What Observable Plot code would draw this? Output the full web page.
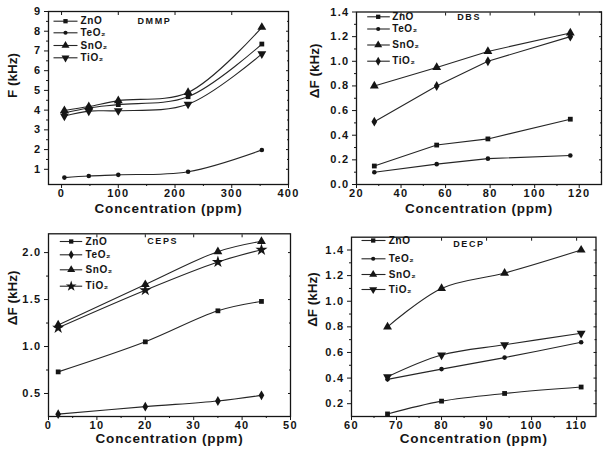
<!DOCTYPE html>
<html><head><meta charset="utf-8">
<script src="https://cdn.jsdelivr.net/npm/d3@7"></script>
<script src="https://cdn.jsdelivr.net/npm/@observablehq/plot@0.6"></script>
<style>
body{margin:0;background:#fff}
#grid{display:grid;grid-template-columns:302px 302px;width:604px}
#grid svg{display:block}
g[aria-label="x-axis tick label"] text, g[aria-label="y-axis tick label"] text{letter-spacing:1.3px}
</style>
</head><body><div id="grid"></div>
<script>
// ---- data ----
const seriesNames = ["ZnO", "TeO₂", "SnO₂", "TiO₂"];

const dmmpConc = [5, 48, 100, 223, 353];
const dmmpZnO  = [3.86, 4.11, 4.28, 4.68, 7.35];
const dmmpTeO2 = [0.58, 0.66, 0.72, 0.88, 1.98];
const dmmpSnO2 = [3.98, 4.18, 4.48, 4.90, 8.20];
const dmmpTiO2 = [3.70, 3.95, 3.97, 4.30, 6.85];

const dbsConc = [28, 56, 79, 116];
const dbsZnO  = [0.15, 0.32, 0.37, 0.53];
const dbsTeO2 = [0.10, 0.165, 0.21, 0.235];
const dbsSnO2 = [0.80, 0.95, 1.08, 1.23];
const dbsTiO2 = [0.51, 0.80, 1.00, 1.20];

const cepsConc = [2, 20, 35, 44];
const cepsZnO  = [0.73, 1.05, 1.38, 1.48];
const cepsTeO2 = [0.28, 0.36, 0.42, 0.48];
const cepsSnO2 = [1.23, 1.66, 2.01, 2.12];
const cepsTiO2 = [1.20, 1.60, 1.90, 2.03];

const decpConc = [68, 80, 94, 111];
const decpZnO  = [0.12, 0.22, 0.28, 0.33];
const decpTeO2 = [0.39, 0.47, 0.56, 0.68];
const decpSnO2 = [0.80, 1.10, 1.22, 1.40];
const decpTiO2 = [0.41, 0.58, 0.66, 0.75];

const dmmpXTicks = [0, 100, 200, 300, 400];
const dmmpXMinor = [50, 150, 250, 350];
const dmmpYTicks = [1, 2, 3, 4, 5, 6, 7, 8, 9];
const dmmpYMinor = [1.5, 2.5, 3.5, 4.5, 5.5, 6.5, 7.5, 8.5];

const dbsXTicks = [20, 40, 60, 80, 100, 120];
const dbsXMinor = [30, 50, 70, 90, 110];
const dbsYTicks = [0, 0.2, 0.4, 0.6, 0.8, 1.0, 1.2, 1.4];
const dbsYMinor = [0.1, 0.3, 0.5, 0.7, 0.9, 1.1, 1.3];

const cepsXTicks = [0, 10, 20, 30, 40, 50];
const cepsXMinor = [5, 15, 25, 35, 45];
const cepsYTicks = [0.5, 1.0, 1.5, 2.0];
const cepsYMinor = [0.75, 1.25, 1.75];

const decpXTicks = [60, 70, 80, 90, 100, 110];
const decpXMinor = [65, 75, 85, 95, 105];
const decpYTicks = [0.2, 0.4, 0.6, 0.8, 1.0, 1.2, 1.4];
const decpYMinor = [0.3, 0.5, 0.7, 0.9, 1.1, 1.3];

// ---- symbols ----
const downTriangle = {draw(ctx, size) {
  const t = Math.sqrt(size / (3 * Math.sqrt(3)));
  ctx.moveTo(0, 2 * t); ctx.lineTo(-Math.sqrt(3) * t, -t); ctx.lineTo(Math.sqrt(3) * t, -t); ctx.closePath();
}};
const hLine = (x0, x1) => ({draw(ctx) { ctx.moveTo(x0, 0); ctx.lineTo(x1, 0); }});
const symR = {square: 2.7, circle: 2.3, triangle: 3.3, diamond: 3.0, star: 3.8};
function rOf(s) { return typeof s === "string" ? symR[s] : 3.3; }

const panels = [
  {title: "DMMP", conc: dmmpConc, values: [dmmpZnO, dmmpTeO2, dmmpSnO2, dmmpTiO2],
   symbols: ["square", "circle", "triangle", downTriangle], yLabel: "F (kHz)",
   xDomain: [-23, 400], yDomain: [0.23, 9], xTicks: dmmpXTicks, xMinor: dmmpXMinor,
   yTicks: dmmpYTicks, yMinor: dmmpYMinor, yFormat: "d", curve: "catmull-rom",
   height: 227, margin: {top: 11, right: 14, bottom: 43, left: 48},
   leg: {x0: 5, x1: 29, mx: 17, tx: 32, rows: [9.7, 21.3, 34, 46.3], titleX: 89, titleY: 9.7},
   yLabelDx: -35.5, xLabelDy: 28},
  {title: "DBS", conc: dbsConc, values: [dbsZnO, dbsTeO2, dbsSnO2, dbsTiO2],
   symbols: ["square", "circle", "triangle", "diamond"], yLabel: "ΔF (kHz)",
   xDomain: [20, 130], yDomain: [0, 1.4], xTicks: dbsXTicks, xMinor: dbsXMinor,
   yTicks: dbsYTicks, yMinor: dbsYMinor, yFormat: ".1f", curve: "linear",
   height: 227, margin: {top: 11.5, right: 3, bottom: 43, left: 54},
   leg: {x0: 10.7, x1: 33.3, mx: 21.7, tx: 35.7, rows: [4.8, 17, 33, 49.2], titleX: 100.7, titleY: 4.8},
   yLabelDx: -42, xLabelDy: 28},
  {title: "CEPS", conc: cepsConc, values: [cepsZnO, cepsTeO2, cepsSnO2, cepsTiO2],
   symbols: ["square", "diamond", "triangle", "star"], yLabel: "ΔF (kHz)",
   xDomain: [0, 50], yDomain: [0.255, 2.2], xTicks: cepsXTicks, xMinor: cepsXMinor,
   yTicks: cepsYTicks, yMinor: cepsYMinor, yFormat: ".1f", curve: "catmull-rom",
   height: 228, margin: {top: 6.3, right: 12, bottom: 39, left: 48},
   leg: {x0: 11.3, x1: 33.7, mx: 22.7, tx: 37, rows: [7.7, 21, 36, 52.4], titleX: 98.7, titleY: 7.7},
   yLabelDx: -36, xLabelDy: 26.8},
  {title: "DECP", conc: decpConc, values: [decpZnO, decpTeO2, decpSnO2, decpTiO2],
   symbols: ["square", "circle", "triangle", downTriangle], yLabel: "ΔF (kHz)",
   xDomain: [60, 114.3], yDomain: [0.1, 1.5], xTicks: decpXTicks, xMinor: decpXMinor,
   yTicks: decpYTicks, yMinor: decpYMinor, yFormat: ".1f", curve: "catmull-rom",
   height: 228, margin: {top: 9.7, right: 8.5, bottom: 39, left: 49},
   leg: {x0: 10, x1: 34, mx: 21.7, tx: 37.3, rows: [3.3, 21.6, 37.3, 52.3], titleX: 101.7, titleY: 7.3},
   yLabelDx: -38.7, xLabelDy: 26.5}
];

const grid = document.getElementById("grid");
const ink = "#151515";

for (const p of panels) {
  const rows = seriesNames.flatMap((name, k) => p.conc.map((c, i) => ({series: name, x: c, y: p.values[k][i]})));
  const blank = () => "";
  const marks = [
    Plot.axisX(p.xTicks, {tickSize: 4, tickPadding: 1, tickFormat: "d", label: null, stroke: ink, fill: ink}),
    Plot.axisX(p.xMinor, {tickSize: 2, tickFormat: blank, label: null, stroke: ink}),
    Plot.axisY(p.yTicks, {tickSize: 4, tickPadding: 3, tickFormat: p.yFormat, label: null, stroke: ink, fill: ink}),
    Plot.axisY(p.yMinor, {tickSize: 2, tickFormat: blank, label: null, stroke: ink}),
    Plot.axisY(p.yTicks, {anchor: "right", tickSize: 3, dx: -3, tickFormat: blank, label: null, stroke: ink}),
    Plot.axisY(p.yMinor, {anchor: "right", tickSize: 2, dx: -2, tickFormat: blank, label: null, stroke: ink}),
    Plot.axisX(p.xTicks, {anchor: "top", tickSize: 3, dy: 3, tickFormat: blank, label: null, stroke: ink}),
    Plot.frame({stroke: ink, strokeWidth: 1.3}),
    Plot.line(rows, {x: "x", y: "y", z: "series", curve: p.curve, stroke: "#262626", strokeWidth: 1.1}),
    ...seriesNames.map((name, k) => Plot.dot(rows.filter(d => d.series === name),
      {x: "x", y: "y", symbol: p.symbols[k], r: rOf(p.symbols[k]), fill: ink, stroke: "none"})),
    // legend
    ...seriesNames.flatMap((name, k) => [
      Plot.dot([name], {frameAnchor: "top-left", dx: 0, dy: p.leg.rows[k], symbol: hLine(p.leg.x0, p.leg.x1), r: 3, fill: "none", stroke: "#262626", strokeWidth: 1.1}),
      Plot.dot([name], {frameAnchor: "top-left", dx: p.leg.mx, dy: p.leg.rows[k], symbol: p.symbols[k], r: rOf(p.symbols[k]) * 0.9, fill: ink, stroke: "none"}),
      Plot.text([name], {frameAnchor: "top-left", dx: p.leg.tx, dy: p.leg.rows[k], text: d => d, textAnchor: "start", lineAnchor: "middle", fontSize: 10, fontWeight: "bold", fill: ink})
    ]),
    Plot.text([p.title], {frameAnchor: "top-left", dx: p.leg.titleX, dy: p.leg.titleY, text: d => d, textAnchor: "start", lineAnchor: "middle", fontSize: 9, fontWeight: "bold", fill: ink}),
    Plot.text(["Concentration (ppm)"], {frameAnchor: "bottom", dy: p.xLabelDy, text: d => d, fontSize: 13.5, fontWeight: "bold", fill: ink}),
    Plot.text([p.yLabel], {frameAnchor: "left", dx: p.yLabelDx, rotate: -90, text: d => d, fontSize: 13.5, fontWeight: "bold", fill: ink})
  ];
  const svg = Plot.plot({
    width: 302, height: p.height,
    marginTop: p.margin.top, marginRight: p.margin.right, marginBottom: p.margin.bottom, marginLeft: p.margin.left,
    x: {domain: p.xDomain}, y: {domain: p.yDomain},
    style: {fontFamily: "'Liberation Sans', Arial, sans-serif", fontSize: "11px", fontWeight: "bold", background: "#fff", color: ink, overflow: "visible"},
    marks
  });
  d3.select(svg).selectAll("text").each(function() {
    const t = this.textContent;
    if (t === p.title) this.setAttribute("letter-spacing", "1.6px");
    else if (t === "Concentration (ppm)") this.setAttribute("letter-spacing", "0.8px");
    else if (seriesNames.includes(t)) this.setAttribute("letter-spacing", "0.6px");
  });
  grid.appendChild(svg);
}
</script>
</body></html>
